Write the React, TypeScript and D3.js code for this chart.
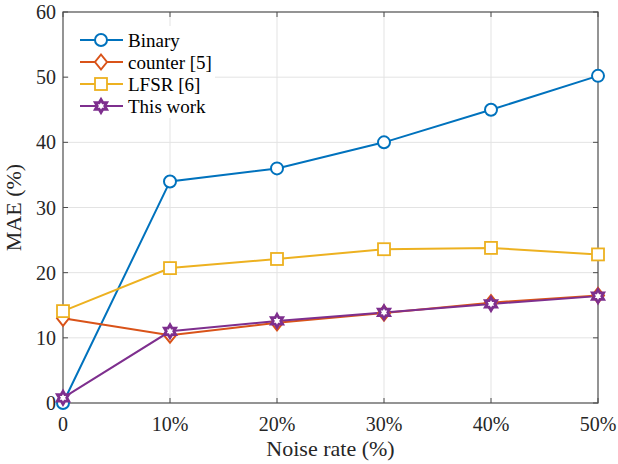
import { useEffect, useRef } from 'react';
import * as d3 from 'd3';

const noiseLabels = ['0', '10%', '20%', '30%', '40%', '50%'];
const noiseRates = [0, 10, 20, 30, 40, 50];
const yTicks = [0, 10, 20, 30, 40, 50, 60];

const binary = [0, 34.0, 36.0, 40.0, 45.0, 50.2];
const counter5 = [13.0, 10.4, 12.3, 13.8, 15.4, 16.5];
const lfsr6 = [14.1, 20.7, 22.1, 23.6, 23.8, 22.8];
const thisWork = [0.8, 11.0, 12.6, 13.9, 15.2, 16.4];

const seriesNames = ['Binary', 'counter [5]', 'LFSR [6]', 'This work'];
const seriesColors = ['#0072BD', '#D95319', '#EDB120', '#7E2F8E'];
const seriesMarkers = ['circle', 'diamond', 'square', 'hexagram'];

const FONT = 'Liberation Serif';

const App = () => {
  const svgRef = useRef<SVGSVGElement>(null);
  const width = 618;
  const height = 464;
  const margin = { top: 12, right: 20, bottom: 61, left: 63 };

  useEffect(() => {
    if (!svgRef.current) return;
    const svg = d3.select(svgRef.current);
    svg.selectAll('*').remove();

    const w = width - margin.left - margin.right;
    const h = height - margin.top - margin.bottom;
    const g = svg.append('g').attr('transform', `translate(${margin.left},${margin.top})`);

    const x = d3.scaleLinear().domain([0, 50]).range([0, w]);
    const y = d3.scaleLinear().domain([0, 60]).range([h, 0]);

    g.append('rect').attr('width', w).attr('height', h).attr('fill', '#fff');

    // grid
    g.append('g').selectAll('line').data(noiseRates.slice(1, -1)).enter().append('line')
      .attr('x1', d => x(d)).attr('x2', d => x(d)).attr('y1', 0).attr('y2', h)
      .attr('stroke', '#e3e3e3').attr('stroke-width', 1);
    g.append('g').selectAll('line').data(yTicks.slice(1, -1)).enter().append('line')
      .attr('y1', d => y(d)).attr('y2', d => y(d)).attr('x1', 0).attr('x2', w)
      .attr('stroke', '#e3e3e3').attr('stroke-width', 1);

    // box
    const axisColor = '#4d4d4d';
    g.append('rect').attr('width', w).attr('height', h).attr('fill', 'none')
      .attr('stroke', axisColor).attr('stroke-width', 1.2);

    // ticks inward on all four sides
    const tl = 5;
    noiseRates.forEach(d => {
      g.append('line').attr('x1', x(d)).attr('x2', x(d)).attr('y1', h).attr('y2', h - tl).attr('stroke', axisColor);
      g.append('line').attr('x1', x(d)).attr('x2', x(d)).attr('y1', 0).attr('y2', tl).attr('stroke', axisColor);
    });
    yTicks.forEach(d => {
      g.append('line').attr('y1', y(d)).attr('y2', y(d)).attr('x1', 0).attr('x2', tl).attr('stroke', axisColor);
      g.append('line').attr('y1', y(d)).attr('y2', y(d)).attr('x1', w).attr('x2', w - tl).attr('stroke', axisColor);
    });

    const txt = (sel: any, size: number) =>
      sel.attr('font-family', FONT).attr('font-size', size).attr('fill', '#262626');

    txt(g.append('g').selectAll('text').data(noiseRates).enter().append('text')
      .attr('x', d => x(d)).attr('y', h + 28).attr('text-anchor', 'middle'), 20)
      .text((d: number, i: number) => noiseLabels[i]);
    txt(g.append('g').selectAll('text').data(yTicks).enter().append('text')
      .attr('x', -7).attr('y', d => y(d)).attr('dy', '0.35em').attr('text-anchor', 'end'), 20)
      .text((d: number) => d);

    txt(g.append('text').attr('x', w / 2).attr('y', h + 53).attr('text-anchor', 'middle'), 22)
      .text('Noise rate (%)');
    txt(g.append('text').attr('transform', `translate(${-42},${h / 2}) rotate(-90)`).attr('text-anchor', 'middle'), 22)
      .text('MAE (%)');

    const drawMarker = (sel: any, kind: string, color: string) => {
      if (kind === 'circle') {
        sel.append('circle').attr('r', 6).attr('fill', '#fff').attr('stroke', color).attr('stroke-width', 2);
      } else if (kind === 'diamond') {
        sel.append('path').attr('d', 'M0,-7.5L6,0L0,7.5L-6,0Z').attr('fill', '#fff').attr('stroke', color).attr('stroke-width', 2);
      } else if (kind === 'square') {
        sel.append('rect').attr('x', -6).attr('y', -6).attr('width', 12).attr('height', 12)
          .attr('fill', '#fff').attr('stroke', color).attr('stroke-width', 1.8);
      } else {
        const r = 6.5;
        const ri = r / Math.sqrt(3);
        const pts: number[][] = [];
        for (let k = 0; k < 6; k++) {
          const ao = -Math.PI / 2 + k * Math.PI / 3;
          const ai = ao + Math.PI / 6;
          pts.push([r * Math.cos(ao), r * Math.sin(ao)]);
          pts.push([ri * Math.cos(ai), ri * Math.sin(ai)]);
        }
        sel.append('path').attr('d', 'M' + pts.map(p => p.join(',')).join('L') + 'Z')
          .attr('fill', '#fff').attr('stroke', color).attr('stroke-width', 2.8).attr('stroke-linejoin', 'miter');
      }
    };

    const allSeries = [binary, counter5, lfsr6, thisWork];
    const line = d3.line<number>().x((d, i) => x(noiseRates[i])).y(d => y(d));
    allSeries.forEach((vals, si) => {
      g.append('path').datum(vals).attr('d', line).attr('fill', 'none')
        .attr('stroke', seriesColors[si]).attr('stroke-width', 2);
    });
    allSeries.forEach((vals, si) => {
      vals.forEach((v, i) => {
        const m = g.append('g').attr('transform', `translate(${x(noiseRates[i])},${y(v)})`);
        drawMarker(m, seriesMarkers[si], seriesColors[si]);
      });
    });

    // legend (white background, no border)
    const lg = g.append('g').attr('transform', 'translate(6,14)');
    lg.append('rect').attr('x', 0).attr('y', 0).attr('width', 146).attr('height', 92).attr('fill', '#fff');
    seriesNames.forEach((name, i) => {
      const ly = 14 + i * 22;
      lg.append('line').attr('x1', 11).attr('x2', 54).attr('y1', ly).attr('y2', ly)
        .attr('stroke', seriesColors[i]).attr('stroke-width', 2);
      const m = lg.append('g').attr('transform', `translate(32,${ly})`);
      drawMarker(m, seriesMarkers[i], seriesColors[i]);
      lg.append('text').attr('x', 59).attr('y', ly).attr('dy', '0.35em')
        .attr('font-family', FONT).attr('font-size', 19).attr('fill', '#000')
        .text(name);
    });
  }, []);

  return <svg ref={svgRef} width={width} height={height} style={{ position: 'absolute', left: 0, top: 0 }} />;
};

export default App;
